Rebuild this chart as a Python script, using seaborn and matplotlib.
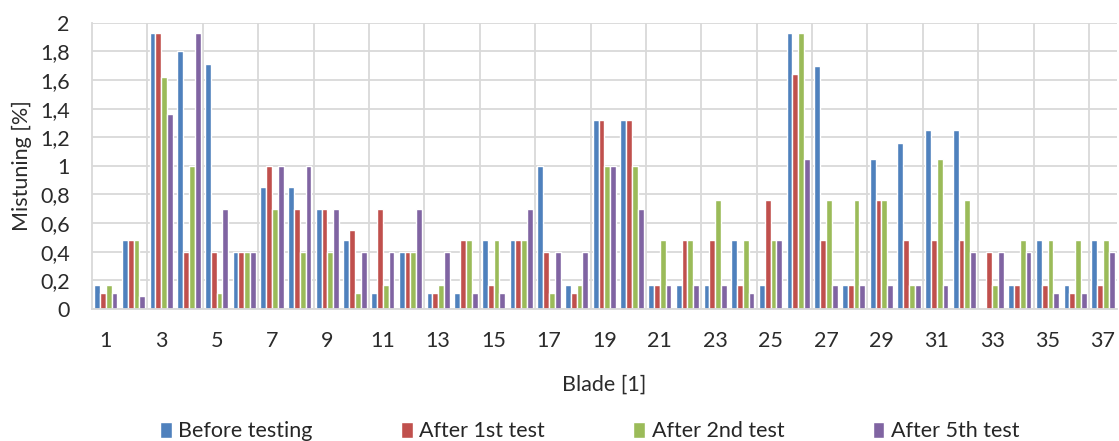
import numpy as np
import pandas as pd
import matplotlib
matplotlib.use("Agg")
import matplotlib.pyplot as plt
import seaborn as sns

blades = list(range(1, 38))
series_names = ["Before testing", "After 1st test", "After 2nd test", "After 5th test"]

before_testing = [0.17, 0.48, 1.93, 1.80, 1.71, 0.40, 0.85, 0.85, 0.70, 0.48,
                  0.11, 0.40, 0.11, 0.11, 0.48, 0.48, 1.00, 0.17, 1.32, 1.32,
                  0.17, 0.17, 0.17, 0.48, 0.17, 1.93, 1.70, 0.17, 1.05, 1.16,
                  1.25, 1.25, 0.01, 0.17, 0.48, 0.17, 0.48]
after_1st = [0.11, 0.48, 1.93, 0.40, 0.40, 0.40, 1.00, 0.70, 0.70, 0.55,
             0.70, 0.40, 0.11, 0.48, 0.17, 0.48, 0.40, 0.11, 1.32, 1.32,
             0.17, 0.48, 0.48, 0.17, 0.76, 1.64, 0.48, 0.17, 0.76, 0.48,
             0.48, 0.48, 0.40, 0.17, 0.17, 0.11, 0.17]
after_2nd = [0.17, 0.48, 1.62, 1.00, 0.11, 0.40, 0.70, 0.40, 0.40, 0.11,
             0.17, 0.40, 0.17, 0.48, 0.48, 0.48, 0.11, 0.17, 1.00, 1.00,
             0.48, 0.48, 0.76, 0.48, 0.48, 1.93, 0.76, 0.76, 0.76, 0.17,
             1.05, 0.76, 0.17, 0.48, 0.48, 0.48, 0.48]
after_5th = [0.11, 0.09, 1.36, 1.93, 0.70, 0.40, 1.00, 1.00, 0.70, 0.40,
             0.40, 0.70, 0.40, 0.11, 0.11, 0.70, 0.40, 0.40, 1.00, 0.70,
             0.17, 0.17, 0.17, 0.11, 0.48, 1.05, 0.17, 0.17, 0.17, 0.17,
             0.17, 0.40, 0.40, 0.40, 0.11, 0.11, 0.40]

y_ticks = [0, 0.2, 0.4, 0.6, 0.8, 1, 1.2, 1.4, 1.6, 1.8, 2]
y_tick_labels = ["0", "0,2", "0,4", "0,6", "0,8", "1", "1,2", "1,4", "1,6", "1,8", "2"]

colors = ["#4F81BD", "#C0504D", "#9BBB59", "#8064A2"]

df = pd.DataFrame({
    "Blade": np.tile(blades, 4),
    "Series": np.repeat(series_names, len(blades)),
    "Mistuning": before_testing + after_1st + after_2nd + after_5th,
})

sns.set_theme(style="white")
plt.rcParams["font.family"] = ["Lato", "DejaVu Sans"]

FS = 15.5
TEXT = "#2b2b2b"

fig = plt.figure(figsize=(11.19, 4.41), dpi=100)
ax = fig.add_axes([0.0822, 0.2993, 0.9158, 0.6492])

sns.barplot(data=df, x="Blade", y="Mistuning", hue="Series",
            hue_order=series_names, palette=colors, width=0.84,
            saturation=1, errorbar=None, ax=ax, legend=True)

ax.set_xlim(-0.5, 36.5)
ax.set_ylim(0, 2)
ax.set_yticks(y_ticks)
ax.set_yticklabels(y_tick_labels, fontsize=FS, color=TEXT)

odd_pos = list(range(0, 37, 2))
ax.set_xticks(odd_pos)
ax.set_xticklabels([str(blades[i]) for i in odd_pos], fontsize=FS, color=TEXT)
ax.set_xticks(np.arange(1.5, 36.5, 2), minor=True)
ax.tick_params(axis="both", which="both", length=0)
ax.tick_params(axis="x", pad=16)
ax.tick_params(axis="y", pad=16)

ax.grid(axis="y", which="major", color="#D9D9D9", linewidth=1.3)
ax.grid(axis="x", which="minor", color="#D9D9D9", linewidth=1.3)
ax.grid(axis="x", which="major", visible=False)
ax.set_axisbelow(True)

for side in ["top", "right"]:
    ax.spines[side].set_visible(False)
ax.spines["left"].set_color("#D9D9D9")
ax.spines["left"].set_linewidth(1.3)
ax.spines["bottom"].set_color("#D9D9D9")
ax.spines["bottom"].set_linewidth(1.3)

ax.set_xlabel("Blade [1]", fontsize=FS, color=TEXT, labelpad=17)
ax.set_ylabel("Mistuning [%]", fontsize=FS, color=TEXT, labelpad=6)

handles, labels = ax.get_legend_handles_labels()
ax.get_legend().remove()
fig.legend(handles, labels, loc="lower center", bbox_to_anchor=(0.527, -0.045),
           ncol=4, frameon=False, fontsize=FS, handlelength=0.55,
           handleheight=0.75, handletextpad=0.3, columnspacing=4.1)

fig.savefig("out.png", dpi=100)
